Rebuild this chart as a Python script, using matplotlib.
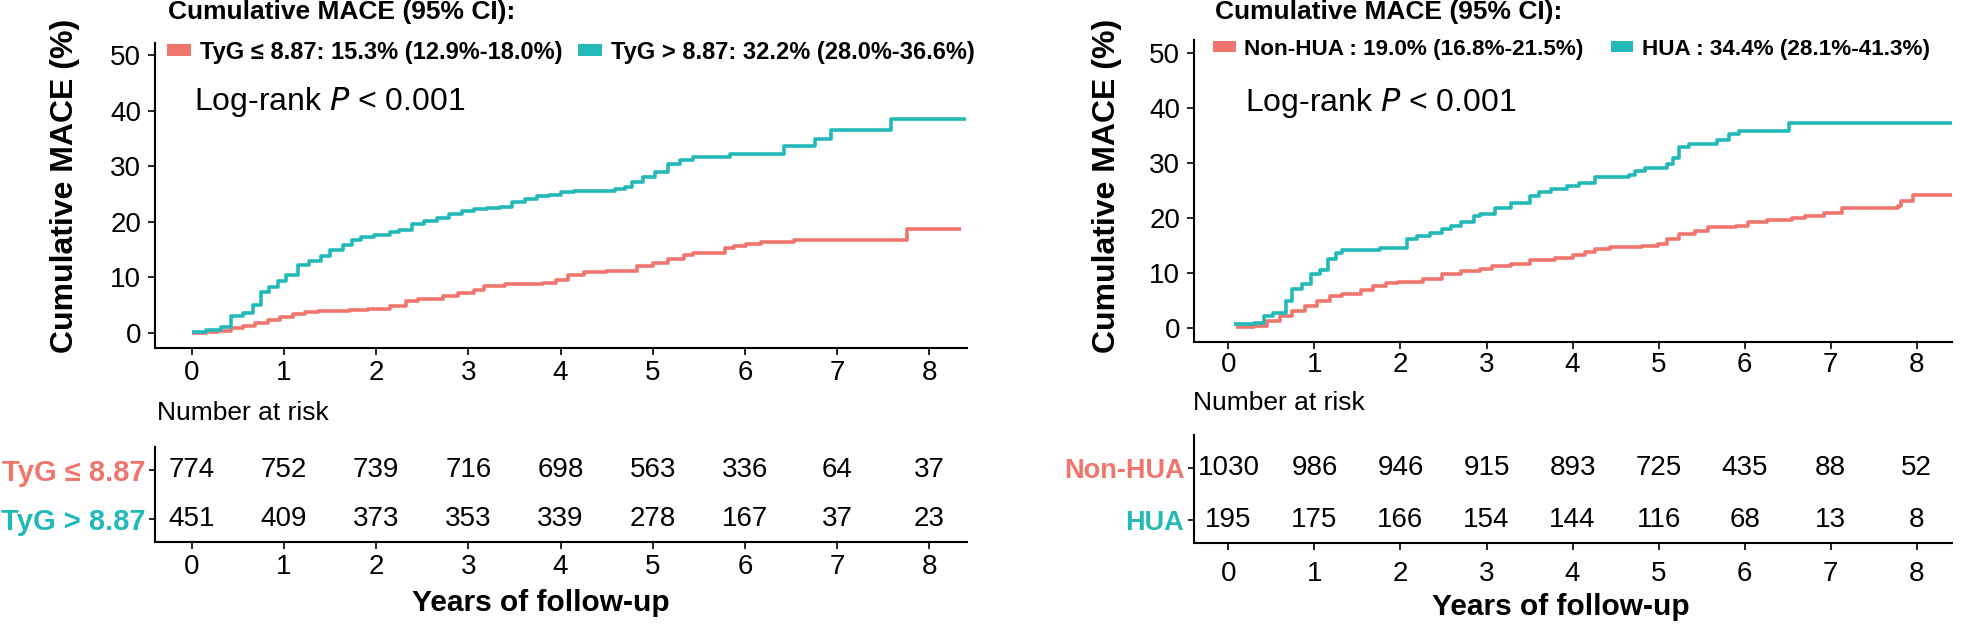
import matplotlib
matplotlib.use('Agg')
import matplotlib.pyplot as plt
from matplotlib.patches import Patch

plt.rcParams['font.family'] = ['Liberation Sans', 'DejaVu Sans']

W, H = 1961, 624
RED = '#F0766D'
TEAL = '#22B9B8'

years = [0, 1, 2, 3, 4, 5, 6, 7, 8]

# --- left panel: TyG groups (step curves, % cumulative MACE) ---
tyg_low_t = [0, 0.15, 0.28, 0.42, 0.55, 0.69, 0.83, 0.96, 1.1, 1.23,
             1.37, 1.71, 1.91, 2.15, 2.32, 2.45, 2.72, 2.89, 3.06, 3.17,
             3.4, 3.81, 3.95, 4.08, 4.25, 4.49, 4.83, 5.0, 5.17, 5.34,
             5.44, 5.78, 5.88, 6.01, 6.18, 6.53, 7.76, 8.34]
tyg_low_y = [0, 0.2, 0.4, 0.9, 1.3, 1.8, 2.3, 2.9, 3.4, 3.7,
             3.9, 4.1, 4.3, 4.9, 5.7, 6.1, 6.7, 7.2, 7.7, 8.4,
             8.9, 9.0, 9.6, 10.5, 10.9, 11.2, 12.0, 12.6, 13.3, 14.1,
             14.4, 15.3, 15.7, 16.0, 16.3, 16.8, 18.7, 18.7]
tyg_high_t = [0, 0.15, 0.32, 0.42, 0.55, 0.66, 0.75, 0.84, 0.93, 1.02,
              1.15, 1.27, 1.4, 1.5, 1.64, 1.74, 1.84, 1.98, 2.15, 2.25,
              2.39, 2.52, 2.66, 2.79, 2.93, 3.06, 3.2, 3.34, 3.47, 3.61,
              3.74, 3.88, 4.01, 4.15, 4.42, 4.59, 4.7, 4.78, 4.9, 5.02,
              5.17, 5.3, 5.44, 5.84, 6.42, 6.76, 6.93, 7.59, 8.4]
tyg_high_y = [0.2, 0.6, 1.0, 3.0, 3.6, 5.1, 7.3, 8.3, 9.4, 10.5,
              12.3, 12.9, 13.8, 15.0, 15.9, 16.8, 17.2, 17.7, 18.1, 18.6,
              19.6, 20.2, 20.7, 21.4, 21.9, 22.3, 22.5, 22.6, 23.5, 24.2,
              24.6, 24.9, 25.3, 25.5, 25.6, 25.9, 26.3, 27.1, 28.1, 28.9,
              30.5, 31.1, 31.6, 32.3, 33.7, 35.0, 36.5, 38.6, 38.6]

# --- right panel: HUA groups ---
nonhua_t = [0.09, 0.3, 0.45, 0.6, 0.74, 0.89, 1.03, 1.18, 1.32, 1.54,
            1.68, 1.83, 1.97, 2.26, 2.48, 2.7, 2.92, 3.06, 3.28, 3.5,
            3.79, 4.0, 4.15, 4.26, 4.44, 4.81, 4.99, 5.1, 5.24, 5.42,
            5.57, 5.9, 6.04, 6.26, 6.55, 6.7, 6.92, 7.13, 7.78, 7.82,
            7.96, 8.45]
nonhua_y = [0.1, 0.4, 1.2, 2.1, 3.0, 3.9, 4.8, 5.8, 6.2, 6.8,
            7.6, 8.1, 8.4, 8.8, 9.7, 10.3, 10.7, 11.2, 11.6, 12.3,
            12.7, 13.2, 13.8, 14.4, 14.7, 14.8, 15.3, 16.2, 17.0, 17.6,
            18.3, 18.5, 19.2, 19.7, 20.0, 20.4, 20.9, 21.8, 22.2, 23.0,
            24.1, 24.1]
hua_t = [0.07, 0.3, 0.41, 0.52, 0.67, 0.74, 0.85, 0.96, 1.07, 1.16,
         1.25, 1.32, 1.76, 2.08, 2.19, 2.34, 2.48, 2.59, 2.7, 2.85,
         2.92, 3.1, 3.28, 3.5, 3.61, 3.75, 3.93, 4.08, 4.26, 4.66,
         4.73, 4.84, 5.1, 5.17, 5.24, 5.35, 5.68, 5.82, 5.93, 6.51, 8.42]
hua_y = [0.6, 0.8, 2.1, 2.7, 4.8, 7.0, 7.9, 9.7, 10.6, 12.5,
         13.6, 14.1, 14.5, 16.2, 16.7, 17.3, 18.0, 18.6, 19.2, 20.3,
         20.8, 21.8, 22.8, 23.9, 24.7, 25.3, 25.8, 26.4, 27.5, 27.9,
         28.5, 29.1, 29.8, 30.9, 33.0, 33.5, 34.2, 35.2, 35.8, 37.3, 37.3]

# --- number at risk ---
risk_tyg_low = [774, 752, 739, 716, 698, 563, 336, 64, 37]
risk_tyg_high = [451, 409, 373, 353, 339, 278, 167, 37, 23]
risk_nonhua = [1030, 986, 946, 915, 893, 725, 435, 88, 52]
risk_hua = [195, 175, 166, 154, 144, 116, 68, 13, 8]

left_groups = ['TyG \u2264 8.87', 'TyG > 8.87']
left_legend = ['TyG \u2264 8.87: 15.3% (12.9%-18.0%)', 'TyG > 8.87: 32.2% (28.0%-36.6%)']
right_groups = ['Non-HUA', 'HUA']
right_legend = ['Non-HUA : 19.0% (16.8%-21.5%)', 'HUA : 34.4% (28.1%-41.3%)']


def px_axes(fig, left, top, right, bottom):
    return fig.add_axes([left / W, 1 - bottom / H, (right - left) / W, (bottom - top) / H])


def fx(x):
    return x / W


def fy(y):
    return 1 - y / H


def style(ax):
    for s in ['top', 'right']:
        ax.spines[s].set_visible(False)
    for s in ['left', 'bottom']:
        ax.spines[s].set_linewidth(1.5)
    ax.tick_params(width=1.2, length=5, labelsize=20)


fig = plt.figure(figsize=(W / 100, H / 100), dpi=100)

panels = [
    dict(curve=(155, 43, 967, 348), ylim=(-2.7, 52.2), table=(155, 447, 967, 542), rows=(470, 519),
         series=[(tyg_low_t, tyg_low_y), (tyg_high_t, tyg_high_y)], risk=[risk_tyg_low, risk_tyg_high],
         groups=left_groups, gsize=21, legend=left_legend, lsize=17, lspace=0.65,
         ylab_x=65, title_x=168, leg=(167, 52),
         logrank=(194, 102), nar=(157, 413), xlab=(541, 603), cpad=4, tpad=4),
    dict(curve=(1194, 40, 1952, 342), ylim=(-2.6, 52.4), table=(1194, 435, 1952, 543), rows=(468, 520),
         series=[(nonhua_t, nonhua_y), (hua_t, hua_y)], risk=[risk_nonhua, risk_hua],
         groups=right_groups, gsize=19.5, legend=right_legend, lsize=16.2, lspace=1.2,
         ylab_x=1107, title_x=1215, leg=(1213, 49),
         logrank=(1245, 103), nar=(1193, 403), xlab=(1561, 607), cpad=2, tpad=8),
]

for p in panels:
    ax = px_axes(fig, *p['curve'])
    style(ax)
    for (t, y), c in zip(p['series'], [RED, TEAL]):
        ax.step(t, y, where='post', color=c, lw=2.6, solid_capstyle='butt')
    ax.set_xlim(-0.4, 8.41)
    ax.set_ylim(*p['ylim'])
    ax.set_xticks(years)
    ax.set_yticks([0, 10, 20, 30, 40, 50])
    ax.tick_params(axis='y', pad=5)
    ax.tick_params(axis='x', pad=p['cpad'])

    fig.text(fx(p['ylab_x']), fy(186), 'Cumulative MACE (%)', rotation=90, ha='center', va='center',
             fontsize=23, fontweight='bold')
    fig.text(fx(p['title_x']), fy(12), 'Cumulative MACE (95% CI):', ha='left', va='center',
             fontsize=19, fontweight='bold')
    handles = [Patch(facecolor=c, edgecolor='none', label=l) for c, l in zip([RED, TEAL], p['legend'])]
    ax.legend(handles=handles, ncol=2, loc='center left', bbox_to_anchor=(fx(p['leg'][0]), fy(p['leg'][1])),
              bbox_transform=fig.transFigure, frameon=False, borderpad=0, borderaxespad=0,
              handlelength=1.0, handleheight=0.4, handletextpad=0.4, columnspacing=p['lspace'],
              prop={'size': p['lsize'], 'weight': 'bold'})
    fig.text(fx(p['logrank'][0]), fy(p['logrank'][1]), 'Log-rank $\\it{P}$ < 0.001', ha='left', va='center',
             fontsize=23)
    fig.text(fx(p['nar'][0]), fy(p['nar'][1]), 'Number at risk', ha='left', va='center', fontsize=19)

    # risk table
    tb = p['table']
    tax = px_axes(fig, *tb)
    style(tax)
    tax.set_xlim(-0.4, 8.41)
    # rows 2 (first group) and 1 (second group) placed at their pixel heights
    r1, r2 = p['rows']
    unit = (r2 - r1)
    tax.set_ylim(1 - (tb[3] - r2) / unit, 2 + (r1 - tb[1]) / unit)
    tax.set_xticks(years)
    tax.set_yticks([2, 1])
    tax.set_yticklabels(p['groups'], fontweight='bold', fontsize=p['gsize'])
    for lab, c in zip(tax.get_yticklabels(), [RED, TEAL]):
        lab.set_color(c)
    tax.tick_params(axis='y', length=4, pad=3)
    tax.tick_params(axis='x', pad=p['tpad'])
    for row, counts in zip([2, 1], p['risk']):
        for x, n in zip(years, counts):
            tax.text(x, row, str(n), ha='center', va='center', fontsize=20)
    tax.set_xlabel('Years of follow-up', fontsize=21.5, fontweight='bold', va='center')
    tax.xaxis.set_label_coords((p['xlab'][0] - tb[0]) / (tb[2] - tb[0]),
                               (tb[3] - p['xlab'][1]) / (tb[3] - tb[1]))

fig.savefig('out.png', dpi=100)
